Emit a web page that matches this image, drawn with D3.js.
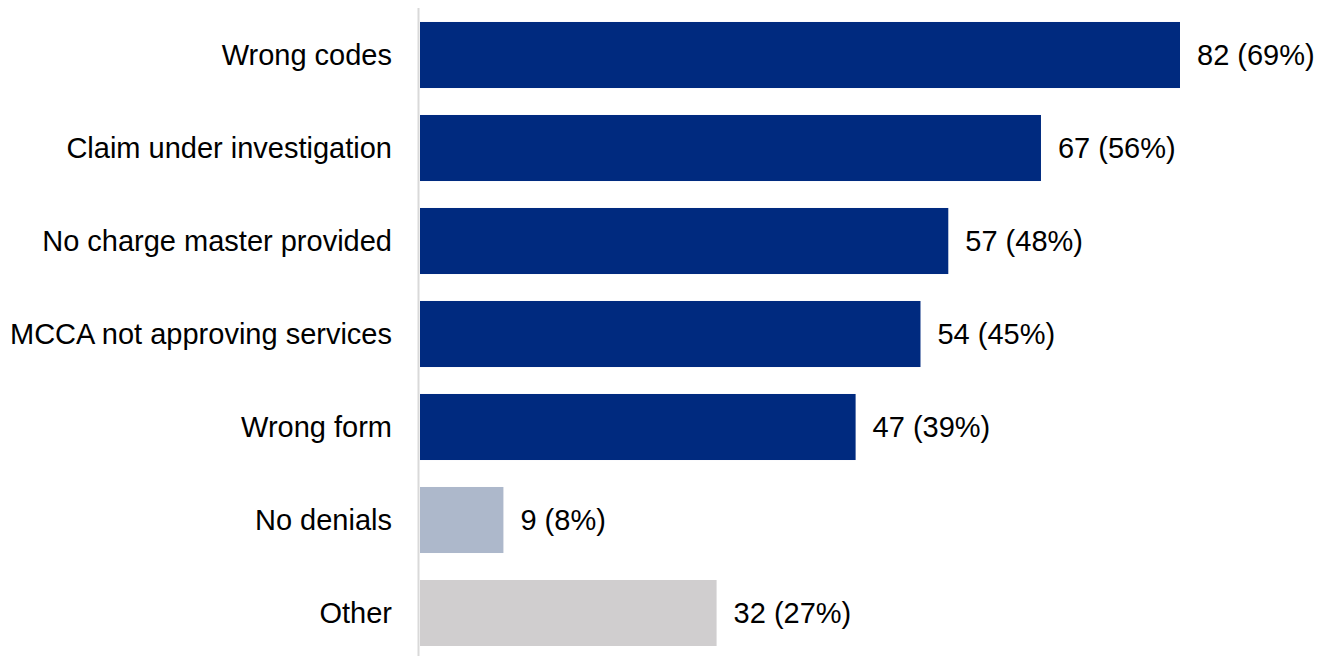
<!DOCTYPE html>
<html>
<head>
<meta charset="utf-8">
<script src="https://cdn.jsdelivr.net/npm/d3@7"></script>
<style>
  body { margin: 0; background: #fff; }
  svg { display: block; }
</style>
</head>
<body>
<div id="chart"></div>
<script>
const categories = ["Wrong codes", "Claim under investigation", "No charge master provided",
  "MCCA not approving services", "Wrong form", "No denials", "Other"];
const counts = [82, 67, 57, 54, 47, 9, 32];
const percents = [69, 56, 48, 45, 39, 8, 27];
const colors = ["#002a7f", "#002a7f", "#002a7f", "#002a7f", "#002a7f", "#adb8cb", "#d0cecf"];

const width = 1322, height = 656;
const margin = { top: 8, right: 0, bottom: 0, left: 420 };

const data = categories.map((c, i) => ({ name: c, count: counts[i], pct: percents[i], color: colors[i] }));

const svg = d3.select("#chart").append("svg")
  .attr("width", width)
  .attr("height", height);

const x = d3.scaleLinear()
  .domain([0, 82])
  .range([margin.left, 1180]);

const y = d3.scaleBand()
  .domain(categories)
  .range([8.5, 659.5])
  .paddingInner(0.29)
  .paddingOuter(0.145);

// vertical axis line
svg.append("line")
  .attr("x1", margin.left - 1.5).attr("x2", margin.left - 1.5)
  .attr("y1", 8).attr("y2", height)
  .attr("stroke", "#d9d9d9")
  .attr("stroke-width", 2);

svg.append("g")
  .selectAll("rect")
  .data(data)
  .join("rect")
  .attr("x", x(0))
  .attr("y", d => y(d.name))
  .attr("width", d => x(d.count) - x(0))
  .attr("height", y.bandwidth())
  .attr("fill", d => d.color);

// category labels
svg.append("g")
  .attr("font-family", "Liberation Sans, Arial, sans-serif")
  .attr("font-size", 29)
  .attr("fill", "#000")
  .selectAll("text")
  .data(data)
  .join("text")
  .attr("x", margin.left - 28)
  .attr("y", d => y(d.name) + y.bandwidth() / 2)
  .attr("dy", "0.35em")
  .attr("text-anchor", "end")
  .text(d => d.name);

// value labels
svg.append("g")
  .attr("font-family", "Liberation Sans, Arial, sans-serif")
  .attr("font-size", 29)
  .attr("fill", "#000")
  .selectAll("text")
  .data(data)
  .join("text")
  .attr("x", d => x(d.count) + 17)
  .attr("y", d => y(d.name) + y.bandwidth() / 2)
  .attr("dy", "0.35em")
  .text(d => `${d.count} (${d.pct}%)`);
</script>
</body>
</html>
